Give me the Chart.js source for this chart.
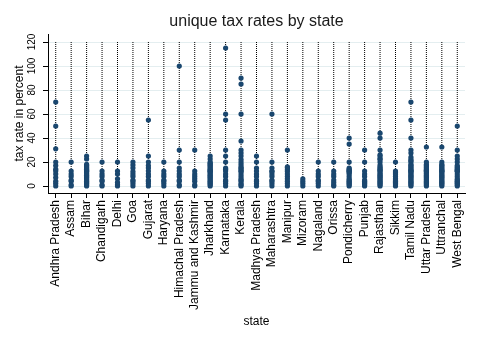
<!DOCTYPE html>
<html>
<head>
<meta charset="utf-8">
<script src="https://cdn.jsdelivr.net/npm/chart.js@4/dist/chart.umd.min.js"></script>
<style>
  html, body { margin: 0; padding: 0; background: #fff; }
  #wrap { width: 478px; height: 347px; position: relative; }
</style>
</head>
<body>
<div id="wrap"><canvas id="taxChart" width="478" height="347"></canvas></div>
<script>
// states on the x axis
const states = ['Andhra Pradesh', 'Assam', 'Bihar', 'Chandigarh', 'Delhi', 'Goa', 'Gujarat', 'Haryana',
  'Himachal Pradesh', 'Jammu and Kashmir', 'Jharkhand', 'Karnataka', 'Kerala', 'Madhya Pradesh',
  'Maharashtra', 'Manipur', 'Mizoram', 'Nagaland', 'Orissa', 'Pondicherry', 'Punjab', 'Rajasthan',
  'Sikkim', 'Tamil Nadu', 'Uttar Pradesh', 'Uttranchal', 'West Bengal'];

// unique tax rates (percent), one list per state, same order as states
const rates = [
  [0, 2, 4, 7, 10, 12.5, 14, 17, 20, 31, 50, 70],
  [0, 1, 4, 5, 8, 10, 12.5, 20],
  [0, 1, 2, 3, 4, 5, 6, 7, 8, 9, 10, 11, 12, 12.5, 13, 14, 15, 16, 17, 18, 22.5, 25],
  [0, 1, 4, 5, 8, 10, 12.5, 20],
  [0, 1, 3, 6, 10, 12.5, 20],
  [0, 2, 4, 5, 8, 10, 12, 15, 17.5, 20],
  [0, 2, 4, 5, 8, 10, 12.5, 15, 17, 20, 25, 55],
  [0, 2, 4, 5, 8, 10, 12.5, 20],
  [0, 1, 4, 5, 8, 10, 12.5, 15, 20, 30, 100],
  [0, 1, 4, 6, 8, 10, 12.5, 30],
  [0, 1, 2, 3, 4, 5, 6, 7, 8, 9, 10, 11, 12, 12.5, 13, 14, 15, 16, 17, 18, 19, 20, 22.5, 25],
  [0, 2, 4, 5, 8, 10, 12.5, 14, 15, 20, 25, 30, 55, 60, 115],
  [0, 1, 2, 4, 5, 6, 8, 10, 12, 12.5, 14, 15, 16, 18, 20, 22, 25, 27.5, 30, 37.5, 60, 85, 90],
  [0, 2, 4, 5, 8, 10, 12.5, 15, 20, 25],
  [0, 2, 4, 5, 8, 10, 12, 12.5, 15, 20, 60],
  [0, 2, 4, 6, 8, 10, 12, 13.5, 15, 16, 30],
  [0, 2, 4, 6],
  [0, 2, 4, 5, 8, 10, 12.5, 20],
  [0, 1, 3, 5, 8, 10, 12.5, 20],
  [0, 1, 2, 3, 4, 5, 6, 8, 10, 11, 12, 12.5, 13, 14, 15, 20, 35, 40],
  [0, 1, 2, 3, 4, 5, 8, 10, 12.5, 20, 30],
  [0, 1, 2, 3, 4, 5, 6, 7, 8, 9, 10, 11, 12.5, 13, 14, 15, 16, 17.5, 20, 22, 23, 25, 26, 30, 40, 44],
  [0, 1, 2, 3, 4, 5, 6, 8, 10, 11, 12.5, 20],
  [0, 1, 2, 3, 4, 5, 6, 7, 8, 9, 10, 11, 12, 12.5, 13, 14, 15, 16, 17, 18, 20, 21, 22, 24, 27.5, 30, 40, 55, 70],
  [0, 1, 2, 3, 4, 5, 6, 7, 8, 9, 10, 11, 12, 12.5, 13, 14, 15, 16, 17, 18, 20, 32.5],
  [0, 1, 2, 3, 4, 5, 6, 7, 8, 9, 10, 11, 12, 12.5, 13, 14, 15, 16, 17, 18, 20, 32.5],
  [0, 1, 2, 3, 4, 5, 6, 8, 10, 12, 12.5, 13, 14, 15, 16, 17, 20, 22.5, 25, 30, 50]
];

const yTicks = [0, 20, 40, 60, 80, 100, 120];
const guideTop = 120;   // dotted guide runs from 0 up to here

const font = 'Liberation Sans, Arial, Helvetica, sans-serif';
const navy = '#1a476f';

const points = states.flatMap((s, i) => rates[i].map((v) => ({ x: s, y: v })));
const guides = states.flatMap((s) => [{ x: s, y: guideTop }, { x: s, y: 0 }, { x: s, y: null }]);

new Chart(document.getElementById('taxChart'), {
  type: 'scatter',
  data: {
    datasets: [
      {
        data: points,
        backgroundColor: navy,
        borderWidth: 0,
        pointRadius: 2.6,
        pointHoverRadius: 2.6,
        order: 1,
      },
      {
        type: 'line',
        data: guides,
        borderColor: '#000',
        borderWidth: 1,
        borderDash: [1, 1],
        pointRadius: 0,
        spanGaps: false,
        tension: 0,
        order: 2,
      },
    ],
  },
  options: {
    responsive: false,
    animation: false,
    events: [],
    layout: { padding: { top: 0, right: 13, bottom: 14, left: 0 } },
    plugins: {
      legend: { display: false },
      tooltip: { enabled: false },
      title: {
        display: true,
        text: 'unique tax rates by state',
        fullSize: false,
        color: '#1a1a1a',
        font: { family: font, size: 16, weight: 'normal', lineHeight: 1.25 },
        padding: { top: 12, bottom: 2 },
      },
    },
    scales: {
      x: {
        type: 'category',
        labels: states,
        offset: true,
        afterFit: (s) => { s.height = 140; },
        border: { color: '#000', width: 1 },
        grid: { display: true, drawOnChartArea: false, offset: false, tickLength: 5, tickColor: '#000' },
        ticks: {
          autoSkip: false,
          minRotation: 90,
          maxRotation: 90,
          padding: 2,
          color: '#000',
          font: { family: font, size: 12 },
        },
        title: {
          display: true,
          text: 'state',
          color: '#000',
          font: { family: font, size: 12 },
          padding: { top: 4, bottom: 4 },
        },
      },
      y: {
        min: -5.8333,
        max: 126.6667,
        afterFit: (s) => { s.width = 48; },
        afterBuildTicks: (s) => { s.ticks = yTicks.map((v) => ({ value: v })); },
        border: { color: '#000', width: 1 },
        grid: { color: '#e4eef0', tickLength: 5, tickColor: '#000' },
        ticks: {
          minRotation: 90,
          maxRotation: 90,
          crossAlign: 'center',
          padding: 2,
          color: '#000',
          font: { family: font, size: 10 },
        },
        title: {
          display: true,
          text: 'tax rate in percent',
          color: '#000',
          font: { family: font, size: 12 },
          padding: { top: 12, bottom: 0 },
        },
      },
    },
  },
});
</script>
</body>
</html>
